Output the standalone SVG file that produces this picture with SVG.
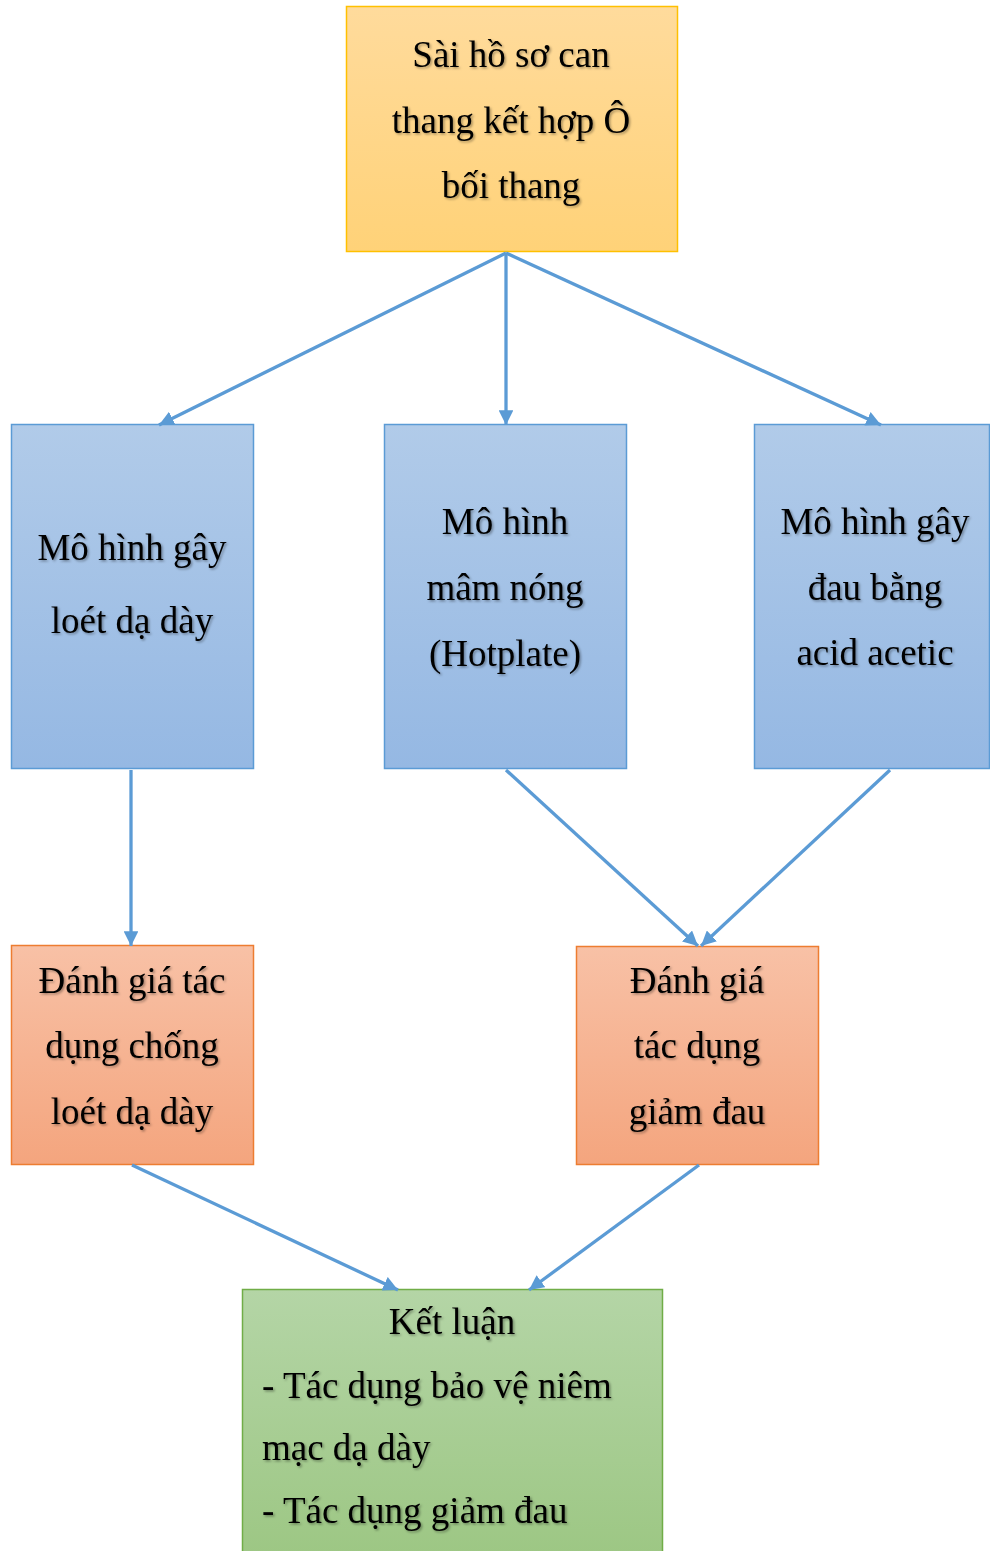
<svg xmlns="http://www.w3.org/2000/svg" width="990" height="1551" viewBox="0 0 990 1551">
<defs>
<linearGradient id="gY" x1="0" y1="0" x2="0" y2="1"><stop offset="0" stop-color="#FFDB9C"/><stop offset="1" stop-color="#FFD278"/></linearGradient>
<linearGradient id="gB" x1="0" y1="0" x2="0" y2="1"><stop offset="0" stop-color="#B1CBE9"/><stop offset="1" stop-color="#95B8E3"/></linearGradient>
<linearGradient id="gO" x1="0" y1="0" x2="0" y2="1"><stop offset="0" stop-color="#F8C1A6"/><stop offset="1" stop-color="#F4A57E"/></linearGradient>
<linearGradient id="gG" x1="0" y1="0" x2="0" y2="1"><stop offset="0" stop-color="#B4D5A6"/><stop offset="1" stop-color="#9DC784"/></linearGradient>
<filter id="sh" x="-10%" y="-30%" width="120%" height="160%"><feDropShadow dx="1.5" dy="1.5" stdDeviation="1.2" flood-color="#000" flood-opacity="0.35"/></filter>
<marker id="ah" viewBox="0 0 10 10" refX="10" refY="5" markerWidth="4.5" markerHeight="4.5" orient="auto" markerUnits="strokeWidth"><path d="M0,0 L10,5 L0,10 Z" fill="#5B9BD5"/></marker>
</defs>
<style>
text{font-family:"Liberation Serif","Times New Roman",serif;font-size:37px;fill:#000;filter:url(#sh)}
.c{text-anchor:middle}
.conn line{stroke:#5B9BD5;stroke-width:3.3;marker-end:url(#ah)}
</style>
<rect width="990" height="1551" fill="#fff"/>
<g id="n-top"><rect x="346.5" y="6.5" width="331" height="245" fill="url(#gY)" stroke="#FFC000" stroke-width="1.5"/>
<text class="c" x="511" y="67">Sài hồ sơ can</text><text class="c" x="511" y="133">thang kết hợp Ô</text><text class="c" x="511" y="198">bối thang</text></g>
<g id="n-loet"><rect x="11.5" y="424.5" width="242" height="344" fill="url(#gB)" stroke="#5B9BD5" stroke-width="1.5"/>
<text class="c" x="132" y="560">Mô hình gây</text><text class="c" x="132" y="633">loét dạ dày</text></g>
<g id="n-hot"><rect x="384.5" y="424.5" width="242" height="344" fill="url(#gB)" stroke="#5B9BD5" stroke-width="1.5"/>
<text class="c" x="505" y="534">Mô hình</text><text class="c" x="505" y="600">mâm nóng</text><text class="c" x="505" y="666">(Hotplate)</text></g>
<g id="n-acid"><rect x="754.5" y="424.5" width="235" height="344" fill="url(#gB)" stroke="#5B9BD5" stroke-width="1.5"/>
<text class="c" x="875" y="534">Mô hình gây</text><text class="c" x="875" y="600">đau bằng</text><text class="c" x="875" y="665">acid acetic</text></g>
<g id="n-dg1"><rect x="11.5" y="945.5" width="242" height="219" fill="url(#gO)" stroke="#ED7D31" stroke-width="1.5"/>
<text class="c" x="132" y="993">Đánh giá tác</text><text class="c" x="132" y="1058">dụng chống</text><text class="c" x="132" y="1124">loét dạ dày</text></g>
<g id="n-dg2"><rect x="576.5" y="946.5" width="242" height="218" fill="url(#gO)" stroke="#ED7D31" stroke-width="1.5"/>
<text class="c" x="697" y="993">Đánh giá</text><text class="c" x="697" y="1058">tác dụng</text><text class="c" x="697" y="1124">giảm đau</text></g>
<g id="n-kl"><rect x="242.5" y="1289.5" width="420" height="264" fill="url(#gG)" stroke="#70AD47" stroke-width="1.5"/>
<text class="c" x="452" y="1334">Kết luận</text><text x="262" y="1398">- Tác dụng bảo vệ niêm</text><text x="262" y="1460">mạc dạ dày</text><text x="262" y="1523">- Tác dụng giảm đau</text></g>
<g id="connectors" class="conn">
<line x1="506" y1="253" x2="159" y2="425"/>
<line x1="506" y1="253" x2="506" y2="425"/>
<line x1="506" y1="253" x2="881" y2="425"/>
<line x1="131" y1="770" x2="131" y2="946"/>
<line x1="506" y1="770" x2="698" y2="946"/>
<line x1="890" y1="770" x2="701" y2="946"/>
<line x1="132" y1="1165" x2="398" y2="1290"/>
<line x1="699" y1="1165" x2="529" y2="1290"/>
</g>
</svg>
